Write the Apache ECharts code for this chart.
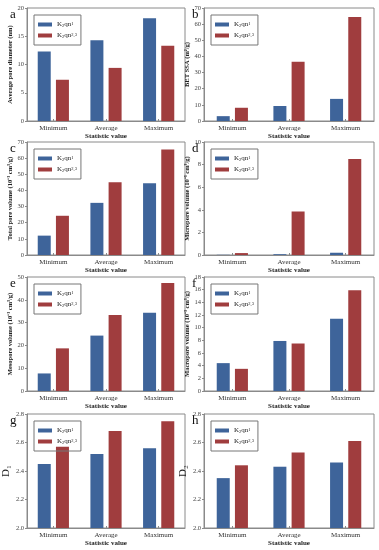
<!DOCTYPE html>
<html><head><meta charset="utf-8">
<script src="https://cdn.jsdelivr.net/npm/echarts@6/dist/echarts.min.js"></script>
<style>html,body{margin:0;padding:0;background:#fff}#c{width:379px;height:550px}</style>
</head><body><div id="c"></div>
<script>
const categories = ['Minimum', 'Average', 'Maximum'];
const seriesNames = ['K2qn1', 'K2qn2-3'];
const legendRich = ['{n|K}{sub|2}{n|qn}{sup|1}', '{n|K}{sub|2}{n|qn}{sup|2,3}'];
const panelLetters = ['a', 'b', 'c', 'd', 'e', 'f', 'g', 'h'];
const yNames = ['Average pore diameter (nm)', 'BET SSA (m\u00b2/g)', 'Total pore volume (10\u207b\u00b3 cm\u00b3/g)', 'Micropore volume (10\u207b\u00b3 cm\u00b3/g)', 'Mesopore volume (10\u207b\u00b3 cm\u00b3/g)', 'Macropore volume (10\u207b\u00b3 cm\u00b3/g)', 'D\u2081', 'D\u2082'];
const aBlue = [12.3, 14.3, 18.2];
const aRed = [7.3, 9.4, 13.3];
const bBlue = [3.0, 9.3, 13.7];
const bRed = [8.2, 36.7, 64.5];
const cBlue = [12.0, 32.3, 44.5];
const cRed = [24.3, 45.0, 65.3];
const dBlue = [0.02, 0.07, 0.2];
const dRed = [0.17, 3.85, 8.5];
const eBlue = [7.7, 24.3, 34.3];
const eRed = [18.7, 33.3, 47.4];
const fBlue = [4.4, 7.9, 11.4];
const fRed = [3.5, 7.5, 15.9];
const gBlue = [2.45, 2.52, 2.56];
const gRed = [2.57, 2.68, 2.75];
const hBlue = [2.35, 2.43, 2.46];
const hRed = [2.44, 2.53, 2.61];
const yMin = [0, 0, 0, 0, 0, 0, 2.0, 2.0];
const yMax = [20, 70, 70, 10, 50, 18, 2.8, 2.8];
const yInterval = [5, 10, 10, 2, 10, 2, 0.2, 0.2];

const blues = [aBlue, bBlue, cBlue, dBlue, eBlue, fBlue, gBlue, hBlue];
const reds = [aRed, bRed, cRed, dRed, eRed, fRed, gRed, hRed];

const BLUE = '#3e649a', RED = '#a03d3e';
const FONT = '"Liberation Serif", "Times New Roman", serif';
const colLeft = [27, 204];
const colWidth = [158, 170];
const rowTop = [8, 142, 277, 414];
const rowH = [113, 113, 114, 114];

const grids = [], xAxes = [], yAxes = [], series = [], legends = [], graphics = [];
for (let i = 0; i < 8; i++) {
  const col = i % 2, row = Math.floor(i / 2);
  const isD = i >= 6;
  grids.push({left: colLeft[col], top: rowTop[row], width: colWidth[col], height: rowH[row],
    show: true, borderColor: '#8a8a8a', borderWidth: 1, backgroundColor: 'transparent'});
  xAxes.push({type: 'category', gridIndex: i, data: categories,
    name: 'Statistic value', nameLocation: 'middle', nameGap: 12,
    nameTextStyle: {fontFamily: FONT, fontWeight: 'bold', fontSize: 7, color: '#222'},
    axisLine: {lineStyle: {color: '#8a8a8a'}},
    axisTick: {show: true, inside: true, length: 2, alignWithLabel: true, lineStyle: {color: '#8a8a8a'}},
    axisLabel: {fontFamily: FONT, fontSize: 7, color: '#333', margin: 4}});
  yAxes.push({type: 'value', gridIndex: i, min: yMin[i], max: yMax[i], interval: yInterval[i],
    name: yNames[i], nameLocation: 'middle', nameGap: isD ? 12 : 10,
    nameTextStyle: {fontFamily: FONT, fontWeight: isD ? 'normal' : 'bold', fontSize: isD ? 11 : 6.5, color: '#222'},
    splitLine: {show: false},
    axisLine: {show: true, lineStyle: {color: '#8a8a8a'}},
    axisTick: {show: true, inside: false, length: 2, lineStyle: {color: '#8a8a8a'}},
    axisLabel: {fontFamily: FONT, fontSize: 6.5, color: '#444', margin: 3,
      formatter: v => isD ? v.toFixed(1) : String(v)}});
  series.push({type: 'bar', name: seriesNames[0], xAxisIndex: i, yAxisIndex: i, data: blues[i],
    barWidth: 13, barGap: '40%', itemStyle: {color: BLUE}});
  series.push({type: 'bar', name: seriesNames[1], xAxisIndex: i, yAxisIndex: i, data: reds[i],
    barWidth: 13, barGap: '40%', itemStyle: {color: RED}});
  legends.push({data: seriesNames, orient: 'vertical', left: colLeft[col] + 7, top: rowTop[row] + 7,
    icon: 'rect', itemWidth: 14, itemHeight: 4, itemGap: 2,
    borderColor: '#777', borderWidth: 1, padding: [5, 4, 5, 4], selectedMode: false,
    formatter: name => legendRich[seriesNames.indexOf(name)],
    textStyle: {fontFamily: FONT, fontSize: 7, color: '#222',
      rich: {
        n: {fontFamily: FONT, fontSize: 7, color: '#222', lineHeight: 7},
        sub: {fontFamily: FONT, fontSize: 4.5, color: '#222', lineHeight: 7, verticalAlign: 'bottom', padding: [3, 0, 0, 0]},
        sup: {fontFamily: FONT, fontSize: 4.5, color: '#222', lineHeight: 7, verticalAlign: 'top', padding: [0, 0, 3, 0]}
      }}});
  graphics.push({type: 'text', left: colLeft[col] - (col === 0 ? 17 : 12), top: rowTop[row],
    style: {text: panelLetters[i], font: '13px ' + FONT, fill: '#111'}});
}

const chart = echarts.init(document.getElementById('c'), null, {renderer: 'canvas'});
chart.setOption({animation: false, grid: grids, xAxis: xAxes, yAxis: yAxes, series: series, legend: legends, graphic: graphics});
</script>
</body></html>
